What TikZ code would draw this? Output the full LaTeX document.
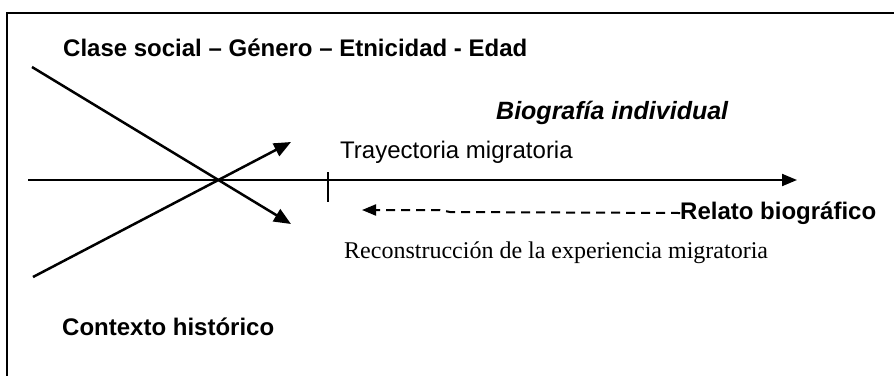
\documentclass[tikz,border=0pt]{standalone}
\usepackage{fontspec}
\setmainfont{Liberation Sans}
\newfontfamily\timesfont{Liberation Serif}
\usetikzlibrary{arrows.meta, positioning}

\begin{document}
\begin{tikzpicture}[x=1pt, y=-1pt,
  txt/.style={anchor=west, inner sep=0pt, font=\fontsize{24}{28}\selectfont},
  boldtxt/.style={txt, font=\fontsize{24}{28}\selectfont\bfseries},
  axis/.style={line width=2pt, -{Triangle[length=15pt, width=12pt]}},
  force/.style={line width=2.5pt, -{Triangle[length=17pt, width=14pt]}}]
\useasboundingbox (0,0) rectangle (894,376);
% Frame
\draw[line width=2pt] (894,13) -- (7,13) -- (7,376);
% Labels
\node[boldtxt] (clase) at (63,48) {Clase social -- Género -- Etnicidad - Edad};
\node[boldtxt, font=\fontsize{25}{29}\selectfont\bfseries\itshape] (bio) at (496,113) {Biografía individual};
\node[txt] (tray) at (340,152) {Trayectoria migratoria};
\node[boldtxt] (relato) at (680,213) {Relato biográfico};
\node[txt, font=\fontsize{24}{28}\selectfont\timesfont] (recon) at (344,253) {Reconstrucción de la experiencia migratoria};
\node[boldtxt] (contexto) at (62,327) {Contexto histórico};
% Axis and crossing lines
\coordinate (t0) at (28,180);
\coordinate (t1) at (797,180);
\coordinate (a0) at (32,67);
\coordinate (a1) at (291,224);
\coordinate (b0) at (33,277);
\coordinate (b1) at (291,142);
\coordinate (tickA) at (328,172);
\coordinate (tickB) at (328,202);
\draw[axis] (t0) -- (t1);
\draw[line width=2pt] (tickA) -- (tickB);
\draw[force] (a0) -- (a1);
\draw[force] (b0) -- (b1);
% Dashed return
\coordinate (d0) at (362,210);
\draw[line width=2pt, dash pattern=on 9pt off 6pt, -{Triangle[length=14pt, width=11pt]}]
  (relato.west) -- (450,212) -- (440,210) -- (d0);
\end{tikzpicture}
\end{document}
